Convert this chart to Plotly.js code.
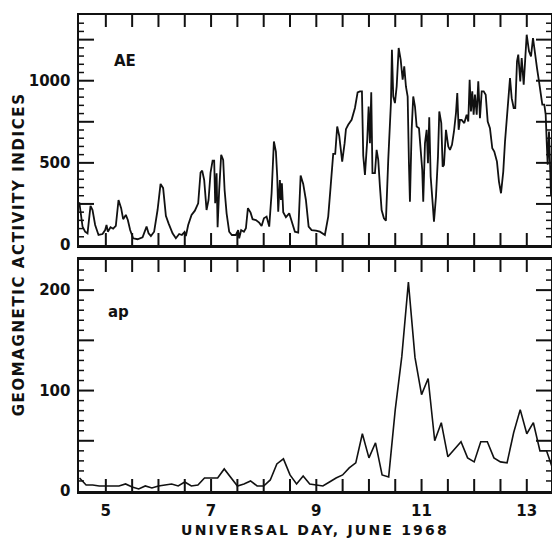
<!DOCTYPE html>
<html>
<head>
<meta charset="utf-8">
<script src="https://cdn.plot.ly/plotly-3.0.1.min.js"></script>
<style>
  html, body { margin: 0; padding: 0; background: #fff; }
  #chart { width: 552px; height: 538px; }
</style>
</head>
<body>
<div id="chart"></div>
<script>
// AE index (time in Universal Day, June 1968; value in gamma)
const aeDay = [4.496,4.519,4.557,4.606,4.652,4.709,4.747,4.797,4.861,4.937,4.987,5.013,5.038,5.089,5.139,5.190,5.241,5.291,5.329,5.380,5.418,5.462,5.519,5.603,5.698,5.774,5.812,5.856,5.918,5.983,6.040,6.089,6.141,6.192,6.268,6.331,6.394,6.445,6.496,6.521,6.565,6.629,6.692,6.755,6.800,6.831,6.869,6.914,6.952,6.990,7.029,7.059,7.078,7.105,7.124,7.154,7.192,7.230,7.257,7.295,7.344,7.395,7.471,7.515,7.534,7.572,7.624,7.662,7.700,7.751,7.789,7.852,7.914,7.960,8.004,8.055,8.105,8.150,8.194,8.232,8.257,8.276,8.308,8.327,8.346,8.371,8.422,8.485,8.530,8.593,8.656,8.702,8.751,8.802,8.854,8.911,8.992,9.068,9.163,9.226,9.272,9.321,9.359,9.397,9.435,9.492,9.538,9.563,9.606,9.671,9.734,9.785,9.829,9.867,9.892,9.924,9.968,9.994,10.019,10.044,10.067,10.114,10.146,10.177,10.209,10.241,10.285,10.323,10.367,10.399,10.418,10.437,10.462,10.494,10.527,10.565,10.603,10.641,10.671,10.703,10.736,10.760,10.779,10.812,10.842,10.875,10.907,10.951,10.983,11.013,11.032,11.065,11.097,11.122,11.146,11.173,11.211,11.236,11.274,11.312,11.337,11.375,11.401,11.426,11.464,11.508,11.540,11.578,11.616,11.654,11.679,11.705,11.730,11.762,11.812,11.857,11.888,11.914,11.939,11.964,11.990,12.015,12.048,12.078,12.110,12.143,12.181,12.219,12.257,12.300,12.344,12.382,12.433,12.471,12.510,12.553,12.586,12.618,12.648,12.681,12.713,12.751,12.781,12.814,12.838,12.876,12.903,12.941,12.979,12.998,13.042,13.080,13.118,13.156,13.194,13.232,13.270,13.295,13.333,13.359,13.378,13.397,13.422,13.441,13.460];
const aeVal = [260,190,112,81,71,238,213,122,61,67,91,122,81,108,99,116,274,224,157,183,152,91,41,35,47,112,71,55,81,213,372,346,177,132,71,41,67,61,79,55,122,183,209,254,441,453,396,213,274,441,514,514,254,437,108,335,549,518,335,193,81,61,61,91,41,91,81,102,224,197,157,152,136,116,163,173,112,315,630,569,417,203,396,274,376,200,169,193,148,81,75,423,372,274,112,91,87,81,61,173,355,555,555,721,665,508,620,705,732,762,834,929,935,935,543,427,640,843,620,929,437,437,579,518,355,213,163,148,518,762,864,1189,904,864,965,1199,1128,1006,1087,965,904,498,264,701,904,843,721,711,599,457,264,620,701,498,778,417,254,142,295,538,813,742,477,488,701,599,579,610,691,803,925,701,762,762,742,793,752,1006,813,935,793,915,793,996,772,935,935,915,752,711,589,569,508,386,315,447,630,752,874,1016,894,834,834,1118,1159,996,1138,976,1179,1280,1179,1148,1260,1148,1077,996,894,854,854,793,630,488,691,386,305];

// ap index, 3-hourly (start day, step in days, values)
const apStart = 4.5;
const apStep = 0.125;
const apVal = [13,6,6,5,5,5,5,7,4,2,5,3,5,6,7,5,9,5,6,13,13,13,22,14,5,7,10,5,5,11,27,32,16,7,15,7,6,5,9,13,16,23,28,57,33,48,16,14,81,134,208,133,96,112,50,68,34,41,49,33,29,49,49,33,29,28,58,81,57,68,40,40,21];
const apDay = apVal.map((v, i) => apStart + i * apStep);

// axis ranges and tick spacing
const xRange = [4.49, 13.46];
const aeRange = [0, 1400];
const apRange = [0, 230];
const xTick0 = 5, xTickStep = 0.5, xLabelEvery = 4;      // labels at 5, 7, 9, 11, 13
const aeTickStep = 250, aeMinorStep = 50;
const apTickStep = 50, apMinorStep = 10;

const FONT = 'DejaVu Sans, Arial, sans-serif';
const INK = '#111';
const tickFont = {family: FONT, size: 15, color: INK, weight: 'bold'};

const traces = [
  {x: aeDay, y: aeVal, xaxis: 'x2', yaxis: 'y2', type: 'scatter', mode: 'lines',
   line: {color: INK, width: 1.8}, hoverinfo: 'skip'},
  {x: apDay, y: apVal, xaxis: 'x', yaxis: 'y', type: 'scatter', mode: 'lines',
   line: {color: INK, width: 1.6}, hoverinfo: 'skip'}
];

// inward tick marks, anchored in axis units (pixel-length lines)
const shapes = [];
function tickLine(o) {
  return Object.assign({type: 'line', layer: 'above', line: {color: INK, width: 2}}, o);
}
function addXTicks(xref, yref, yRange) {
  for (let i = 0; xTick0 + i * xTickStep <= xRange[1]; i++) {
    const d = xTick0 + i * xTickStep;
    shapes.push(tickLine({xref, yref, x0: d, x1: d, ysizemode: 'pixel', yanchor: yRange[0], y0: 0, y1: 12}));
    shapes.push(tickLine({xref, yref, x0: d, x1: d, ysizemode: 'pixel', yanchor: yRange[1], y0: -12, y1: 0}));
  }
}
function addYTicks(xref, yref, yRange, major, minor) {
  for (let i = 1; i * minor < yRange[1]; i++) {
    const v = i * minor;
    const len = (v % major === 0) ? 15 : 5;
    const w = (v % major === 0) ? 2 : 1.5;
    shapes.push(tickLine({xref, yref, y0: v, y1: v, xsizemode: 'pixel', xanchor: xRange[0], x0: 0, x1: len, line: {color: INK, width: w}}));
    shapes.push(tickLine({xref, yref, y0: v, y1: v, xsizemode: 'pixel', xanchor: xRange[1], x0: -len, x1: 0, line: {color: INK, width: w}}));
  }
}
addXTicks('x', 'y', apRange);
addXTicks('x2', 'y2', aeRange);
addYTicks('x', 'y', apRange, apTickStep, apMinorStep);
addYTicks('x2', 'y2', aeRange, aeTickStep, aeMinorStep);

const xCommon = {
  range: xRange, showgrid: false, zeroline: false,
  showline: true, linewidth: 2.5, linecolor: INK, mirror: true,
  tickmode: 'linear', tick0: xTick0, dtick: xTickStep, ticklabelstep: xLabelEvery,
  ticks: '', tickfont: tickFont
};

function yAxis(step) {
  return {
    showgrid: false, zeroline: false, showline: true, linewidth: 2.5, linecolor: INK, mirror: true,
    tickmode: 'linear', tick0: 0, dtick: step, ticklabelstep: 2,
    ticks: '', tickfont: tickFont, ticklabelstandoff: 3
  };
}

const layout = {
  width: 552, height: 538,
  margin: {l: 79, r: 1, t: 15, b: 47},
  paper_bgcolor: '#fff', plot_bgcolor: 'rgba(0,0,0,0)',
  showlegend: false,
  shapes: shapes,
  xaxis: Object.assign({}, xCommon, {anchor: 'y', domain: [0, 1], showticklabels: true, ticklabelstandoff: 4,
    title: {text: 'UNIVERSAL DAY, JUNE 1968', font: {family: FONT, size: 14, color: INK, weight: 'bold'}, standoff: 9}}),
  xaxis2: Object.assign({}, xCommon, {anchor: 'y2', domain: [0, 1], showticklabels: false}),
  yaxis: Object.assign(yAxis(apTickStep), {domain: [0, 0.4853], range: apRange, anchor: 'x'}),
  yaxis2: Object.assign(yAxis(aeTickStep), {domain: [0.5168, 1], range: aeRange, anchor: 'x2'}),
  annotations: [
    {text: 'GEOMAGNETIC ACTIVITY INDICES', xref: 'paper', yref: 'paper', x: -0.127, y: 0.496,
     xanchor: 'center', yanchor: 'middle', textangle: -90, showarrow: false,
     font: {family: FONT, size: 15, color: INK, weight: 'bold'}},
    {text: 'AE', xref: 'paper', yref: 'paper', x: 0.0975, y: 0.903, xanchor: 'center', yanchor: 'middle',
     showarrow: false, font: {family: FONT, size: 15, color: INK, weight: 'bold'}},
    {text: 'ap', xref: 'paper', yref: 'paper', x: 0.083, y: 0.376, xanchor: 'center', yanchor: 'middle',
     showarrow: false, font: {family: FONT, size: 15, color: INK, weight: 'bold'}}
  ]
};

Plotly.newPlot('chart', traces, layout, {staticPlot: true, displayModeBar: false}).then(() => {
  document.querySelectorAll('.g-xtitle text').forEach(el => { el.style.letterSpacing = '2.2px'; });
  document.querySelectorAll('.annotation-text').forEach(el => {
    if (el.textContent.indexOf('GEOMAGNETIC') === 0) el.style.letterSpacing = '1.6px';
  });
});
</script>
</body>
</html>
